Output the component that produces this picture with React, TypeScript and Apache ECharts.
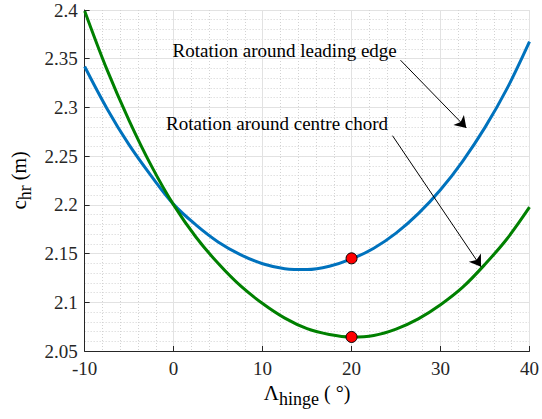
import React, { useEffect, useRef } from "react";
import * as echarts from "echarts";

// Hinge sweep angle (deg)
const hingeAngles = [
  -10, -7.5, -5, -2.5, 0, 2.5, 5, 7.5, 10, 12.5, 15, 17.5, 20, 22.5, 25, 27.5, 30, 32.5, 35, 37.5, 40,
];
// Rotation around leading edge (blue)
const leadingEdge = [
  2.342, 2.299, 2.2615, 2.2295, 2.2005, 2.1795, 2.162, 2.149, 2.1395, 2.1345, 2.1336, 2.137, 2.1445,
  2.1555, 2.171, 2.191, 2.2155, 2.245, 2.2795, 2.3198, 2.3675,
];
// Rotation around centre chord (green)
const centreChord = [
  2.399, 2.339, 2.2865, 2.24, 2.2, 2.167, 2.14, 2.117, 2.0988, 2.0838, 2.073, 2.067, 2.0644, 2.066,
  2.0725, 2.083, 2.0975, 2.1155, 2.139, 2.1655, 2.1976,
];
// Selected design points
const markerAngles = [20, 20];
const markerValues = [2.1451, 2.0644];

// Annotation texts and arrows (data coordinates)
const annotationTexts = ["Rotation around leading edge", "Rotation around centre chord"];
const arrowStarts = [
  [25.5, 2.3485],
  [24.6, 2.271],
];
const arrowEnds = [
  [32.9, 2.279],
  [34.55, 2.1365],
];

const xMin = -10;
const xMax = 40;
const xInterval = 10;
const yMin = 2.05;
const yMax = 2.4;
const yInterval = 0.05;

export default function App() {
  const ref = useRef<HTMLDivElement>(null);

  useEffect(() => {
    if (!ref.current) return;
    const chart = echarts.init(ref.current, null, { renderer: "svg" });
    const font = "Liberation Serif";
    const axisColor = "#262626";
    const majorGrid = { show: true, lineStyle: { color: "#e2e2e2", width: 1 } };
    const minorGrid = { show: true, lineStyle: { color: "#d2d2d2", width: 1, type: [1, 2] } };

    const richName = {
      m: { fontSize: 21, fontFamily: font, color: "#000" },
      s: { fontSize: 18, fontFamily: font, color: "#000", padding: [12, 0, 0, 0] },
      n: { fontSize: 20, fontFamily: font, color: "#000" },
    };

    const option: any = {
      animation: false,
      textStyle: { fontFamily: font },
      grid: { left: 79, right: 11, top: 10, bottom: 68 },
      xAxis: {
        type: "value",
        min: xMin,
        max: xMax,
        interval: xInterval,
        name: "{m|Λ}{s|hinge}{n| ( °)}",
        nameLocation: "middle",
        nameGap: 24,
        nameTextStyle: { fontFamily: font, rich: richName },
        axisLine: { show: true, onZero: false, lineStyle: { color: axisColor, width: 1 } },
        axisTick: { show: true, inside: true, length: 5, lineStyle: { color: axisColor } },
        axisLabel: { color: axisColor, fontFamily: font, fontSize: 19, margin: 8 },
        splitLine: majorGrid,
        minorTick: { show: false, splitNumber: 5 },
        minorSplitLine: minorGrid,
      },
      yAxis: {
        type: "value",
        min: yMin,
        max: yMax,
        interval: yInterval,
        name: "{m|c}{s|hr}{n| (m)}",
        nameLocation: "middle",
        nameRotate: 90,
        nameGap: 50,
        nameTextStyle: { fontFamily: font, rich: richName },
        axisLine: { show: true, onZero: false, lineStyle: { color: axisColor, width: 1 } },
        axisTick: { show: true, inside: true, length: 5, lineStyle: { color: axisColor } },
        axisLabel: { color: axisColor, fontFamily: font, fontSize: 19, margin: 7 },
        splitLine: majorGrid,
        minorTick: { show: false, splitNumber: 5 },
        minorSplitLine: minorGrid,
      },
      series: [
        {
          type: "line",
          name: "leading edge",
          data: hingeAngles.map((x, i) => [x, leadingEdge[i]]),
          smooth: 0.35,
          showSymbol: false,
          lineStyle: { color: "#0072BD", width: 3 },
          itemStyle: { color: "#0072BD" },
          z: 3,
          silent: true,
        },
        {
          type: "line",
          name: "centre chord",
          data: hingeAngles.map((x, i) => [x, centreChord[i]]),
          smooth: 0.35,
          showSymbol: false,
          lineStyle: { color: "#008000", width: 3 },
          itemStyle: { color: "#008000" },
          z: 4,
          silent: true,
          markLine: {
            silent: true,
            symbol: ["none", "arrow"],
            symbolSize: 11,
            label: { show: false },
            lineStyle: { color: "#000", width: 1, type: "solid" },
            emphasis: { disabled: true },
            data: arrowStarts.map((s, i) => [{ coord: s }, { coord: arrowEnds[i] }]),
          },
        },
        {
          type: "scatter",
          data: markerAngles.map((x, i) => [x, markerValues[i]]),
          symbol: "circle",
          symbolSize: 11,
          itemStyle: { color: "#ff0000", borderColor: "#000", borderWidth: 1, opacity: 1 },
          z: 5,
          silent: true,
        },
      ],
      graphic: [
        {
          type: "text",
          x: 172.5,
          y: 50.3,
          style: {
            text: annotationTexts[0],
            fontSize: 19,
            fontFamily: font,
            fill: "#000",
            align: "left",
            verticalAlign: "middle",
          },
          z: 10,
        },
        {
          type: "text",
          x: 166,
          y: 123.6,
          style: {
            text: annotationTexts[1],
            fontSize: 19,
            fontFamily: font,
            fill: "#000",
            align: "left",
            verticalAlign: "middle",
          },
          z: 10,
        },
      ],
    };

    chart.setOption(option);
    return () => {
      chart.dispose();
    };
  }, []);

  return (
    <div
      ref={ref}
      style={{ position: "fixed", left: 0, top: 0, width: 542, height: 419, background: "#fff" }}
    />
  );
}
